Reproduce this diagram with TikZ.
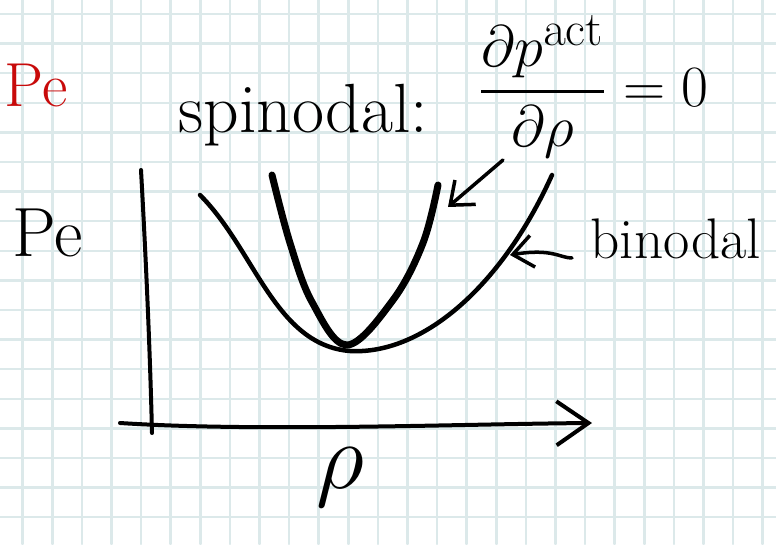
\documentclass[tikz,border=0pt]{standalone}
\usepackage{amsmath}
\usetikzlibrary{arrows.meta}
\definecolor{SketchGrid}{HTML}{DCE9EA}
\definecolor{SketchRed}{HTML}{C80A0A}

\begin{document}
\begin{tikzpicture}[x=1pt, y=-1pt, line cap=round, line join=round,
    lbl/.style={inner sep=0pt, anchor=base west, font=\Huge, scale=#1},
    ink/.style={black, line width=#1},
    arr/.style={ink=3.5pt, -{Straight Barb[length=20pt,width=32pt,line width=3.5pt]}}]
  % paper and grid
  \fill[white] (0,0) rectangle (776,544);
  \useasboundingbox (0,0) rectangle (776,544);
  \foreach \k in {0,...,25} \draw[SketchGrid, line width=2.5pt] (22.7+29.6*\k,0) -- (22.7+29.6*\k,544);
  \foreach \k in {0,...,17} \draw[SketchGrid, line width=2.5pt] (0,14+29.6*\k) -- (776,14+29.6*\k);

  % labels (\Huge is 24.88pt, scaled up)
  \node[lbl=2.5, text=SketchRed] (pe1) at (4,106) {Pe};
  \node[lbl=2.8] (pe2) at (12,256) {Pe};
  \node[lbl=2.8] (sp) at (178,132) {spinodal:};
  \node[lbl=2.35] (fr) at (478,106)
    {$\displaystyle\frac{\partial p^{\mathrm{act}}}{\partial\rho}=0$};
  \node[lbl=2.3] (bi) at (590,258) {binodal};
  \node[lbl=3.8] (rho) at (316,488) {$\rho$};

  % axes
  \coordinate (yt) at (141,170);
  \coordinate (yb) at (152,433);
  \coordinate (xl) at (120,423);
  \coordinate (xr) at (592,423);
  \draw[ink=4pt] (yt) .. controls (146,260) and (150,350) .. (yb);
  \draw[ink=4pt, -{Straight Barb[length=32pt,width=44pt,line width=4pt]}]
    (xl) .. controls (260,432) and (460,424) .. (xr);

  % binodal and spinodal curves
  \draw[ink=4.5pt] (200,195) .. controls (255,250) and (275,345) .. (350,351)
    .. controls (420,355) and (500,290) .. (552,175);
  \draw[ink=7pt] plot[smooth, tension=0.6] coordinates
    {(272,175) (290,243) (312,302) (347,345) (393,300) (423,243) (438,185)};

  % pointers
  \coordinate (spin from) at (503,160);
  \coordinate (spin tip) at (448,207);
  \coordinate (bin from) at (572,258);
  \coordinate (bin tip) at (510,255);
  \draw[arr] (spin from) -- (spin tip);
  \draw[arr] (bin from) .. controls (560,258) and (552,248) .. (bin tip);
\end{tikzpicture}
\end{document}
